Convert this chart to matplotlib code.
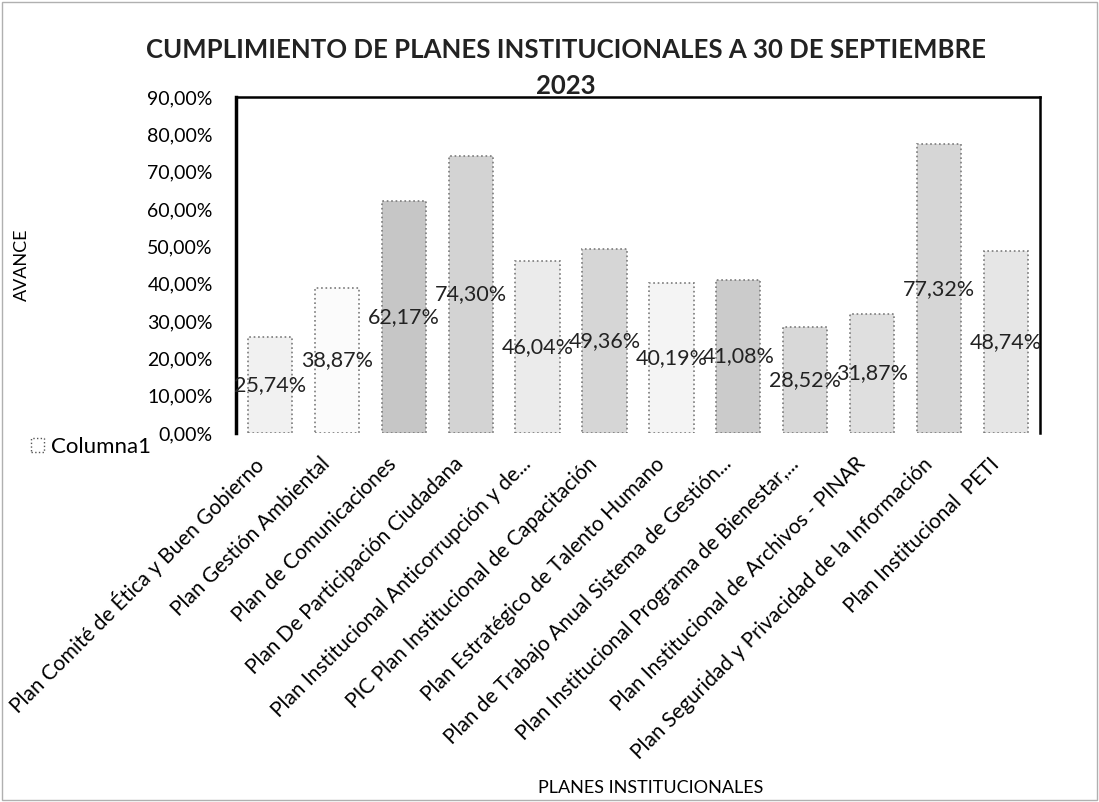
import numpy as np
import matplotlib
matplotlib.use("Agg")
import matplotlib.pyplot as plt
from matplotlib.patches import Patch
from matplotlib.transforms import ScaledTranslation

plt.rcParams['font.family'] = ['Lato', 'DejaVu Sans']

planes = ['Plan Comité de Ética y Buen Gobierno',
          'Plan Gestión Ambiental',
          'Plan de Comunicaciones',
          'Plan De Participación Ciudadana',
          'Plan Institucional Anticorrupción y de...',
          'PIC Plan Institucional de Capacitación',
          'Plan Estratégico de Talento Humano',
          'Plan de Trabajo Anual Sistema de Gestión...',
          'Plan Institucional Programa de Bienestar,...',
          'Plan Institucional de Archivos - PINAR',
          'Plan Seguridad y Privacidad de la Información',
          'Plan Institucional  PETI']
avance = [25.74, 38.87, 62.17, 74.30, 46.04, 49.36, 40.19, 41.08, 28.52, 31.87, 77.32, 48.74]
tonos = ['#f1f1f1', '#fbfbfb', '#c6c6c6', '#d3d3d3', '#ebebeb', '#d6d6d6',
         '#f4f4f4', '#cbcbcb', '#d8d8d8', '#dfdfdf', '#d6d6d6', '#e6e6e6']
yticks = np.arange(0, 91, 10)

def pct(v):
    return ('%.2f%%' % v).replace('.', ',')

fig = plt.figure(figsize=(10.99, 8.02), dpi=100)
ax = fig.add_axes([0.215, 0.46, 0.731, 0.419])

x = np.arange(len(planes))
ax.bar(x, avance, width=0.66, color=tonos, edgecolor='#7a7a7a',
       linestyle=':', linewidth=1.2)

# etiquetas centradas en la barra
for xi, v in zip(x, avance):
    ax.text(xi, v / 2, pct(v), ha='center', va='center', fontsize=15.5, color='#222222')

ax.set_xlim(-0.5, len(planes) - 0.5)
ax.set_ylim(0, 90)
ax.set_yticks(yticks)
ax.set_yticklabels([pct(v) for v in yticks], fontsize=14)
ax.tick_params(axis='y', length=0, pad=17)
ax.tick_params(axis='x', length=0, pad=20)
ax.set_xticks(x)
ax.set_xticklabels(planes, rotation=45, ha='right', va='center',
                   rotation_mode='anchor', fontsize=15)
# corre un poco a la izquierda los nombres
desplaza = ScaledTranslation(-0.1, 0, fig.dpi_scale_trans)
for lab in ax.get_xticklabels():
    lab.set_transform(lab.get_transform() + desplaza)

ax.spines['left'].set_linewidth(2.5)
ax.spines['top'].set_linewidth(1.8)
ax.spines['right'].set_linewidth(1.8)
ax.spines['bottom'].set_visible(False)

fig.text(0.515, 0.938, 'CUMPLIMIENTO DE PLANES INSTITUCIONALES A 30 DE SEPTIEMBRE',
         ha='center', va='center', fontsize=18.5, fontweight='bold', color='#222222')
fig.text(0.515, 0.893, '2023', ha='center', va='center', fontsize=18.5,
         fontweight='bold', color='#222222')
fig.text(0.02, 0.67, 'AVANCE', rotation=90, ha='center', va='center', fontsize=13)
fig.text(0.592, 0.017, 'PLANES INSTITUCIONALES', ha='center', va='center', fontsize=13)

fig.legend(handles=[Patch(facecolor='white', edgecolor='#555555', linestyle=':')],
           labels=['Columna1'], loc='center left', bbox_to_anchor=(0.028, 0.443),
           frameon=False, fontsize=16, handlelength=0.6, handleheight=0.6,
           handletextpad=0.3, borderpad=0, borderaxespad=0)

# marco tenue de la imagen escaneada
fig.patches.append(plt.Rectangle((0.002, 0.003), 0.996, 0.994, transform=fig.transFigure,
                                 fill=False, edgecolor='#b0b0b0', linewidth=1))

fig.savefig('out.png', dpi=100)
